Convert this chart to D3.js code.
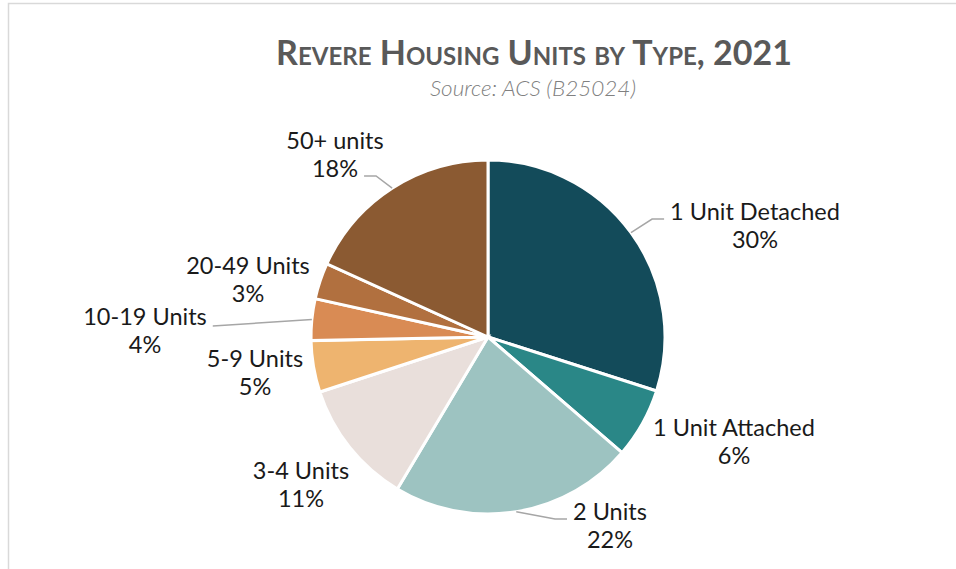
<!DOCTYPE html>
<html>
<head>
<meta charset="utf-8">
<script src="https://cdn.jsdelivr.net/npm/d3@7"></script>
<style>
  body { margin: 0; background: #fff; }
  text { font-family: Lato, "Open Sans", sans-serif; }
</style>
</head>
<body>
<script>
// housing unit types, Revere 2021 (ACS B25024)
var categories = ["1 Unit Detached", "1 Unit Attached", "2 Units", "3-4 Units",
                  "5-9 Units", "10-19 Units", "20-49 Units", "50+ units"];
var shares = [29.9, 6.4, 22.2, 11.4, 4.7, 3.8, 3.3, 18.2];
var colors = ["#134b5a", "#2a8787", "#9dc3c1", "#e9dfdb",
              "#eeb46f", "#d98b54", "#b1703f", "#8b5a32"];

var svgWidth = 956;
var svgHeight = 569;

// label center / first-line baseline; leader: which line it attaches to
var labelPos = [
  {x: 755, y: 220, leader: 0},
  {x: 734, y: 436, leader: -1},
  {x: 610, y: 520, leader: 0},
  {x: 301, y: 479, leader: -1},
  {x: 255, y: 367, leader: -1},
  {x: 145, y: 325, leader: 0},
  {x: 248, y: 274, leader: -1},
  {x: 335, y: 149, leader: 1}
];

var svg = d3.select("body")
  .append("svg")
    .attr("width", svgWidth)
    .attr("height", svgHeight);

// frame
svg.append("path")
  .attr("d", "M8.5," + svgHeight + "V3.5H" + svgWidth)
  .attr("fill", "none")
  .attr("stroke", "#d9d9d9")
  .attr("stroke-width", 1.5);

svg.append("text")
  .attr("x", 534)
  .attr("y", 65)
  .attr("text-anchor", "middle")
  .style("font-size", "34px")
  .style("font-weight", "bold")
  .style("font-variant", "small-caps")
  .style("fill", "#595959")
  .text("Revere Housing Units by Type, 2021");

svg.append("text")
  .attr("x", 533)
  .attr("y", 96)
  .attr("text-anchor", "middle")
  .style("font-size", "22.5px")
  .style("font-style", "italic")
  .style("font-weight", 300)
  .style("fill", "#808080")
  .text("Source: ACS (B25024)");

var cx = 488, cy = 337, radius = 177;
var total = d3.sum(shares);

var pie = d3.pie().sort(null).value(d => d);
var arcs = pie(shares);
var arc = d3.arc().innerRadius(0).outerRadius(radius);

var g = svg.append("g")
  .attr("transform", "translate(" + cx + "," + cy + ")");

g.selectAll("path.slice")
  .data(arcs)
  .enter()
  .append("path")
    .attr("class", "slice")
    .attr("d", arc)
    .attr("fill", (d, i) => colors[i])
    .attr("stroke", "#fff")
    .attr("stroke-width", 3);

var labels = svg.append("g")
  .selectAll("text")
  .data(arcs)
  .enter()
  .append("text")
    .attr("text-anchor", "middle")
    .style("font-size", "23.5px")
    .style("fill", "#1a1a1a");

labels.append("tspan")
  .attr("class", "l0")
  .attr("x", (d, i) => labelPos[i].x)
  .attr("y", (d, i) => labelPos[i].y)
  .text((d, i) => categories[i]);

labels.append("tspan")
  .attr("class", "l1")
  .attr("x", (d, i) => labelPos[i].x)
  .attr("y", (d, i) => labelPos[i].y + 28)
  .text(d => Math.round(d.value / total * 100) + "%");

// leader lines: slice edge at mid angle -> elbow -> next to the label
labels.each(function(d, i) {
  var lp = labelPos[i];
  if (lp.leader < 0) return;
  var a = (d.startAngle + d.endAngle) / 2;
  var p0 = [cx + radius * Math.sin(a), cy - radius * Math.cos(a)];
  var span = d3.select(this).select(".l" + lp.leader).node();
  var w = span.getComputedTextLength();
  var side = p0[0] > lp.x ? 1 : -1;   // which side of the text the pie is
  var endX = lp.x + side * (w / 2 + 6);
  var endY = lp.y + lp.leader * 28 - 1;
  var pts;
  if (i === 5) {
    pts = [p0, [endX, endY + 2]];
  } else {
    pts = [p0, [endX + side * 12, endY], [endX, endY]];
  }
  svg.append("path")
    .attr("d", d3.line()(pts))
    .attr("fill", "none")
    .attr("stroke", "#a6a6a6")
    .attr("stroke-width", 1.5);
});
</script>
</body>
</html>
